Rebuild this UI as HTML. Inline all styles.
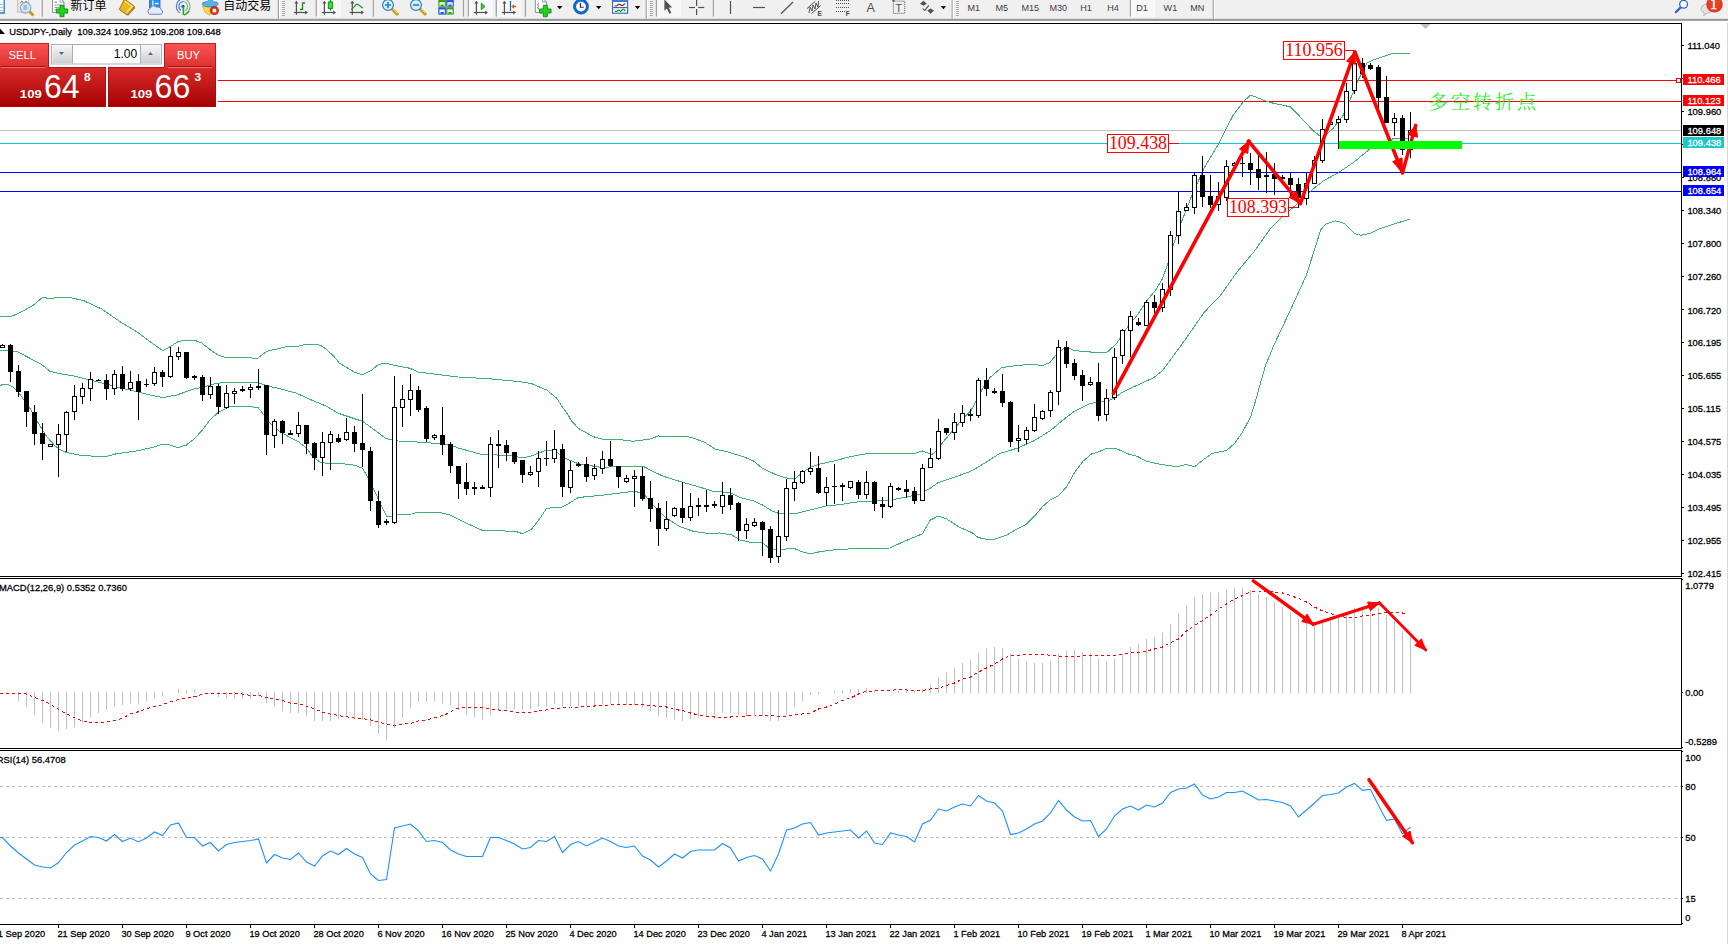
<!DOCTYPE html>
<html lang="zh"><head><meta charset="utf-8"><title>USDJPY-,Daily</title>
<style>
html,body{margin:0;padding:0;background:#fff}
body{width:1728px;height:944px;position:relative;overflow:hidden;font-family:"Liberation Sans","Noto Sans CJK SC",sans-serif;color:#000}
svg{position:absolute;left:0;top:0;display:block}
.t{font-family:"Liberation Sans","Noto Sans CJK SC",sans-serif;font-size:9.9px;fill:#000;stroke:#000;stroke-width:0.28px}
.pl{font-family:"Liberation Sans",sans-serif;font-size:9.9px;fill:#fff;stroke:#fff;stroke-width:0.28px}
.bx{font-family:"Liberation Serif",serif;font-size:17.9px;fill:#f00}
.tf{font-family:"Liberation Sans",sans-serif;font-size:9.9px;fill:#404040}
.cn{font-family:"Liberation Sans","Noto Sans CJK SC",sans-serif;font-size:12px;fill:#000}
</style></head><body>
<svg width="1728" height="944" viewBox="0 0 1728 944">
<rect x="0" y="0" width="1728" height="944" fill="#fff"/>
<g shape-rendering="crispEdges">
<rect x="0" y="80" width="1681" height="1" fill="#f00"/><rect x="0" y="101" width="1681" height="1" fill="#f00"/><rect x="0" y="130" width="1681" height="1" fill="#c0c0c0"/><rect x="0" y="143" width="1681" height="1" fill="#00ced1"/><rect x="0" y="172" width="1681" height="1" fill="#00f"/><rect x="0" y="191" width="1681" height="1" fill="#00f"/><rect x="1676.5" y="78.5" width="4" height="4" fill="#fff" stroke="#f00" stroke-width="1"/>
<path d="M18 692h1v9h-1zM26 692h1v15h-1zM34 692h1v23h-1zM42 692h1v31h-1zM50 692h1v36h-1zM58 692h1v39h-1zM66 692h1v37h-1zM74 692h1v35h-1zM82 692h1v30h-1zM90 692h1v25h-1zM98 692h1v21h-1zM106 692h1v18h-1zM114 692h1v14h-1zM122 692h1v13h-1zM130 692h1v11h-1zM138 692h1v11h-1zM146 692h1v9h-1zM154 692h1v6h-1zM162 692h1v4h-1zM178 689h1v4h-1zM186 690h1v3h-1zM194 690h1v3h-1zM218 692h1v5h-1zM226 692h1v6h-1zM234 692h1v6h-1zM242 692h1v6h-1zM250 692h1v6h-1zM258 692h1v4h-1zM266 692h1v11h-1zM274 692h1v14h-1zM282 692h1v19h-1zM290 692h1v21h-1zM298 692h1v21h-1zM306 692h1v24h-1zM314 692h1v29h-1zM322 692h1v29h-1zM330 692h1v29h-1zM338 692h1v27h-1zM346 692h1v25h-1zM354 692h1v27h-1zM362 692h1v28h-1zM370 692h1v34h-1zM378 692h1v42h-1zM386 692h1v48h-1zM394 692h1v36h-1zM402 692h1v26h-1zM410 692h1v16h-1zM418 692h1v10h-1zM426 692h1v10h-1zM434 692h1v9h-1zM442 692h1v11h-1zM450 692h1v13h-1zM458 692h1v18h-1zM466 692h1v23h-1zM474 692h1v25h-1zM482 692h1v27h-1zM490 692h1v23h-1zM498 692h1v19h-1zM506 692h1v17h-1zM514 692h1v17h-1zM522 692h1v18h-1zM530 692h1v17h-1zM538 692h1v15h-1zM546 692h1v14h-1zM554 692h1v12h-1zM562 692h1v14h-1zM570 692h1v14h-1zM578 692h1v14h-1zM586 692h1v14h-1zM594 692h1v13h-1zM602 692h1v12h-1zM610 692h1v11h-1zM618 692h1v12h-1zM626 692h1v13h-1zM634 692h1v13h-1zM642 692h1v15h-1zM650 692h1v19h-1zM658 692h1v24h-1zM666 692h1v26h-1zM674 692h1v27h-1zM682 692h1v29h-1zM690 692h1v27h-1zM698 692h1v26h-1zM706 692h1v25h-1zM714 692h1v23h-1zM722 692h1v21h-1zM730 692h1v21h-1zM738 692h1v23h-1zM746 692h1v24h-1zM754 692h1v24h-1zM762 692h1v24h-1zM770 692h1v29h-1zM778 692h1v29h-1zM786 692h1v23h-1zM794 692h1v15h-1zM802 692h1v9h-1zM810 692h1v3h-1zM818 692h1v2h-1zM834 691h1v2h-1zM842 690h1v3h-1zM850 689h1v4h-1zM858 689h1v4h-1zM866 688h1v5h-1zM874 690h1v3h-1zM898 691h1v2h-1zM906 690h1v3h-1zM914 691h1v2h-1zM922 689h1v4h-1zM930 685h1v8h-1zM938 678h1v15h-1zM946 673h1v20h-1zM954 668h1v25h-1zM962 663h1v30h-1zM970 660h1v33h-1zM978 653h1v40h-1zM986 649h1v44h-1zM994 647h1v46h-1zM1002 648h1v45h-1zM1010 654h1v39h-1zM1018 659h1v34h-1zM1026 662h1v31h-1zM1034 663h1v30h-1zM1042 663h1v30h-1zM1050 661h1v32h-1zM1058 654h1v39h-1zM1066 651h1v42h-1zM1074 650h1v43h-1zM1082 652h1v41h-1zM1090 653h1v40h-1zM1098 659h1v34h-1zM1106 662h1v31h-1zM1114 659h1v34h-1zM1122 654h1v39h-1zM1130 647h1v46h-1zM1138 644h1v49h-1zM1146 639h1v54h-1zM1154 637h1v56h-1zM1162 633h1v60h-1zM1170 624h1v69h-1zM1178 614h1v79h-1zM1186 606h1v87h-1zM1194 597h1v96h-1zM1202 594h1v99h-1zM1210 593h1v100h-1zM1218 593h1v100h-1zM1226 590h1v103h-1zM1234 588h1v105h-1zM1242 588h1v105h-1zM1250 590h1v103h-1zM1258 594h1v99h-1zM1266 597h1v96h-1zM1274 602h1v91h-1zM1282 607h1v86h-1zM1290 612h1v81h-1zM1298 619h1v74h-1zM1306 622h1v71h-1zM1314 626h1v67h-1zM1322 623h1v70h-1zM1330 620h1v73h-1zM1338 618h1v75h-1zM1346 615h1v78h-1zM1354 608h1v85h-1zM1362 606h1v87h-1zM1370 606h1v87h-1zM1378 608h1v85h-1zM1386 615h1v78h-1zM1394 621h1v72h-1zM1402 631h1v62h-1zM1410 637h1v56h-1z" fill="#c0c0c0"/>
</g>
<line x1="0" y1="786.5" x2="1681" y2="786.5" stroke="#c0c0c0" stroke-width="1" stroke-dasharray="3 3" shape-rendering="crispEdges"/><line x1="0" y1="837.5" x2="1681" y2="837.5" stroke="#c0c0c0" stroke-width="1" stroke-dasharray="3 3" shape-rendering="crispEdges"/><line x1="0" y1="898.5" x2="1681" y2="898.5" stroke="#c0c0c0" stroke-width="1" stroke-dasharray="3 3" shape-rendering="crispEdges"/>
<polyline points="0.0,316.3 11.7,316.3 21.7,311.7 34.0,304.7 43.0,297.0 50.0,299.0 57.5,297.0 67.5,297.0 83.3,300.5 101.7,309.0 122.5,323.3 138.0,332.5 150.0,341.7 163.0,350.8 170.0,346.7 178.0,341.7 185.0,340.0 194.0,340.0 201.7,343.0 211.7,350.8 218.0,355.0 225.8,357.5 241.7,357.5 257.5,358.3 266.7,351.3 280.0,348.3 288.3,346.3 299.2,346.0 304.6,344.6 316.3,344.6 320.8,345.4 326.7,349.6 334.2,356.7 339.2,363.0 346.7,367.5 355.0,372.5 362.5,374.6 370.8,370.8 378.3,364.7 384.0,363.0 393.3,365.0 410.0,368.3 418.3,372.0 458.3,377.0 488.3,378.7 520.0,381.7 531.7,383.7 546.7,390.0 556.7,398.3 563.3,408.3 568.0,414.7 570.8,420.0 578.3,428.3 593.3,436.7 601.7,439.0 623.3,440.0 633.3,441.3 650.0,439.0 658.3,436.0 673.3,436.7 685.0,436.0 693.3,438.0 705.0,442.5 715.0,449.0 726.7,451.7 743.3,456.7 753.3,460.8 762.5,468.3 776.7,475.0 786.7,478.0 795.0,478.7 801.7,473.0 810.0,467.5 820.0,464.0 835.0,460.8 850.0,456.7 865.0,454.0 886.7,453.3 915.0,453.3 922.5,451.0 931.7,454.5 935.8,451.7 943.3,441.7 953.3,430.0 962.5,419.0 970.8,410.8 976.7,400.0 981.7,390.0 990.0,377.5 1001.7,367.5 1015.0,365.8 1033.3,364.0 1041.7,365.8 1050.0,362.5 1056.7,354.0 1063.3,349.0 1069.0,348.0 1073.3,350.3 1081.7,351.3 1096.7,352.5 1106.7,352.5 1110.7,349.0 1117.3,342.5 1124.0,331.7 1130.7,323.3 1139.0,312.5 1147.3,300.0 1155.7,290.0 1162.3,279.0 1168.0,263.3 1170.7,253.3 1179.0,228.3 1190.7,198.3 1204.0,168.3 1219.0,143.3 1230.7,120.0 1233.3,115.0 1243.3,101.7 1250.8,95.0 1263.3,100.0 1273.3,103.3 1290.0,106.7 1300.0,116.7 1313.3,130.8 1319.0,135.3 1326.7,134.0 1333.3,128.3 1343.3,115.0 1350.0,100.0 1358.3,80.0 1366.7,63.3 1373.3,60.0 1383.3,56.7 1393.3,53.3 1410.0,53.3" fill="none" stroke="#3cb371" stroke-width="1" shape-rendering="crispEdges"/>
<polyline points="0.0,350.8 8.0,350.8 18.0,352.0 30.0,358.3 41.0,364.0 50.0,371.3 58.0,373.3 73.0,375.8 88.0,379.5 103.0,383.3 122.5,388.3 138.0,392.0 150.0,395.0 163.0,397.5 176.7,395.0 194.0,389.0 201.7,387.5 215.0,383.7 223.0,382.5 257.5,382.5 266.7,385.8 280.0,388.7 296.7,393.3 313.3,400.8 326.7,406.3 338.3,413.3 353.3,418.3 362.5,421.3 373.3,429.0 385.0,438.0 391.7,440.0 398.3,441.0 426.7,442.5 440.0,444.0 450.0,444.7 458.3,448.0 480.0,454.0 490.0,454.7 513.3,455.8 522.5,458.0 531.7,455.8 546.7,450.0 556.7,451.7 560.0,454.7 566.7,459.0 578.3,463.7 601.7,467.5 618.3,466.3 643.3,466.3 650.0,470.0 663.3,476.3 683.3,482.5 698.3,486.7 713.3,491.3 730.0,492.5 740.0,497.5 753.3,500.8 762.5,505.0 771.7,510.8 778.3,513.3 796.7,513.3 810.0,510.0 826.7,505.8 840.0,504.7 856.7,502.0 873.3,501.0 886.7,500.8 906.7,497.0 920.0,494.0 930.0,488.3 938.3,482.5 953.3,477.5 970.0,471.7 983.3,464.0 1000.0,453.3 1010.0,450.5 1018.3,447.8 1034.0,440.8 1050.0,430.8 1061.7,421.0 1075.0,411.0 1090.0,403.5 1100.0,402.0 1108.3,401.0 1115.0,397.5 1120.7,393.3 1134.0,386.7 1154.0,377.5 1162.3,370.8 1174.0,355.0 1187.3,336.7 1204.0,312.5 1220.7,295.0 1237.3,271.7 1254.0,251.7 1270.7,228.3 1282.3,216.7 1298.0,203.3 1314.0,188.3 1323.9,180.5 1337.7,173.1 1353.5,162.5 1369.4,149.3 1380.0,144.5 1390.0,140.0 1395.0,138.0 1410.0,138.0" fill="none" stroke="#3cb371" stroke-width="1" shape-rendering="crispEdges"/>
<polyline points="0.0,385.3 6.7,384.0 12.5,386.7 19.0,393.3 29.0,406.7 38.0,422.5 46.7,436.7 55.0,445.8 60.0,449.7 66.7,452.5 80.0,455.3 95.0,456.3 106.7,456.3 116.7,453.7 138.0,450.8 155.0,446.7 163.0,444.0 170.0,445.0 178.0,447.5 186.0,445.3 194.0,439.0 201.7,430.8 210.0,420.0 218.0,412.5 230.0,406.7 245.0,406.3 258.0,407.5 264.0,415.0 270.0,423.3 280.0,431.7 290.0,437.5 298.3,441.7 306.7,448.3 312.5,456.7 320.0,462.0 330.0,464.0 340.0,463.3 355.0,465.3 362.5,468.3 368.3,478.3 375.0,491.7 381.7,506.7 386.7,516.3 390.8,516.3 396.7,514.7 411.7,514.0 418.3,512.0 438.3,512.0 450.0,515.0 468.3,524.0 482.5,530.5 501.7,530.8 516.7,531.7 522.5,533.7 531.7,529.0 540.0,518.3 546.7,508.3 561.7,507.0 568.0,504.0 578.3,497.5 601.7,495.3 618.3,493.3 633.3,491.3 643.3,493.0 650.0,501.7 656.7,509.0 666.7,518.3 680.0,526.7 693.3,531.3 706.7,533.3 720.0,533.0 731.7,535.0 740.0,540.0 751.7,542.5 762.5,542.8 768.3,547.5 773.3,549.7 781.7,549.7 793.3,548.0 801.7,551.7 810.0,553.8 820.0,551.7 835.0,549.7 848.0,549.0 856.7,548.7 890.0,548.0 903.3,541.7 922.5,533.8 930.0,520.3 938.3,516.0 946.7,519.0 960.0,527.5 971.7,532.5 978.3,537.5 986.7,539.5 995.0,539.0 1006.7,535.0 1018.3,528.3 1026.7,524.0 1034.0,516.7 1042.5,506.7 1050.0,500.0 1058.3,496.0 1066.7,486.7 1075.0,471.7 1082.5,461.7 1091.7,453.8 1098.3,452.0 1106.7,448.3 1115.7,448.3 1129.0,454.2 1137.3,456.3 1146.5,461.3 1162.3,464.7 1177.3,466.7 1185.7,464.5 1194.8,466.7 1204.0,459.2 1212.3,453.3 1226.5,450.5 1234.8,443.3 1242.3,432.5 1250.7,416.7 1257.3,395.0 1259.0,388.3 1265.7,365.0 1274.0,345.0 1287.3,316.7 1297.3,295.0 1305.7,276.7 1312.3,256.7 1320.7,230.0 1325.7,224.0 1335.7,220.8 1344.0,223.3 1354.0,233.3 1360.7,235.3 1370.7,233.3 1380.7,228.3 1392.0,224.7 1410.0,219.0" fill="none" stroke="#3cb371" stroke-width="1" shape-rendering="crispEdges"/>
<polyline points="0.0,693.5 17.5,693.0 26.2,694.0 34.2,697.5 42.5,700.5 50.0,704.0 58.2,709.0 66.2,713.8 74.2,717.5 82.2,721.0 90.2,722.5 98.2,722.5 106.2,722.0 114.2,720.5 122.2,718.5 130.2,714.0 138.2,711.8 146.2,708.8 154.2,706.8 162.2,704.8 170.2,701.8 178.2,699.8 186.2,698.0 194.2,696.8 202.2,694.3 210.2,693.5 226.2,693.5 242.2,694.0 250.2,695.5 258.2,695.0 266.2,697.5 274.2,699.0 282.2,700.5 290.2,703.0 298.2,703.8 306.2,706.0 314.2,708.8 322.2,712.0 330.2,714.0 338.2,715.5 346.2,716.8 354.2,718.0 362.2,718.5 370.2,719.8 378.2,722.0 386.2,724.0 394.2,726.0 402.2,724.0 410.2,723.5 418.2,721.0 426.2,720.0 432.0,718.5 444.5,715.0 457.0,708.5 466.5,707.0 474.5,707.0 482.5,708.0 490.5,709.0 498.5,710.0 506.5,711.0 514.5,712.0 522.5,712.0 530.5,712.0 538.5,711.0 546.5,710.0 554.5,708.0 562.5,708.0 570.5,707.0 578.5,707.0 586.5,706.0 594.5,706.0 602.5,705.0 610.5,705.0 618.5,704.5 626.5,704.5 634.5,704.5 642.5,704.5 650.5,705.5 658.5,706.5 666.5,707.0 674.5,709.5 682.5,710.5 690.5,713.0 698.5,715.0 706.5,716.5 714.5,717.0 722.5,717.0 730.5,717.0 738.5,716.0 746.5,716.0 754.5,715.0 762.5,715.0 770.5,715.0 778.5,716.5 786.5,716.0 794.5,715.0 802.5,714.0 810.5,713.0 818.5,709.0 826.5,707.0 834.5,704.0 842.5,700.5 850.5,698.0 858.5,694.0 864.0,692.0 874.5,691.0 890.5,690.5 898.5,689.5 914.5,690.5 922.5,690.5 930.5,689.0 938.5,688.0 946.5,685.5 954.5,683.0 962.5,679.0 970.5,677.0 978.5,672.0 986.5,668.0 994.5,664.0 1002.5,659.0 1010.5,655.5 1018.5,655.5 1026.5,654.0 1034.5,654.0 1042.5,654.0 1050.5,655.5 1058.5,656.0 1074.5,656.0 1082.5,656.0 1090.5,655.5 1106.5,655.5 1114.5,655.5 1122.5,654.0 1130.5,653.0 1138.5,652.5 1146.5,651.0 1154.5,649.0 1162.5,647.0 1170.5,642.5 1178.5,639.0 1186.5,631.0 1194.5,625.5 1202.5,620.5 1210.5,615.0 1218.5,609.0 1226.5,604.0 1232.0,600.5 1242.5,595.5 1250.5,592.0 1258.5,591.0 1266.5,591.0 1274.5,592.0 1282.5,593.0 1290.5,595.5 1298.5,598.5 1306.5,602.0 1314.5,607.0 1322.5,611.0 1330.5,613.5 1338.5,616.0 1346.5,617.5 1354.5,617.5 1362.5,616.0 1370.5,615.5 1378.5,613.5 1386.5,612.5 1394.5,612.0 1402.5,613.0 1407.0,614.5" fill="none" stroke="#f00" stroke-width="1" stroke-dasharray="3 3" shape-rendering="crispEdges"/>
<polyline points="-5.5,837.5 2.5,837.5 10.5,846.0 18.5,853.0 26.5,859.0 34.5,865.0 42.5,867.0 50.5,868.0 58.5,862.5 66.5,852.5 74.5,845.0 82.5,841.0 90.5,836.5 98.5,837.5 106.5,841.0 114.5,834.5 122.5,841.5 130.5,838.0 138.5,842.0 146.5,838.0 154.5,832.0 162.5,835.5 170.5,825.0 178.5,823.0 186.5,837.5 194.5,837.5 202.5,846.0 210.5,842.5 218.5,851.0 226.5,844.5 234.5,842.5 242.5,841.5 250.5,840.5 258.5,839.0 266.5,863.0 274.5,854.5 282.5,858.0 290.5,859.5 298.5,853.0 306.5,862.0 314.5,866.0 322.5,856.0 330.5,851.0 338.5,854.5 346.5,848.5 354.5,854.0 362.5,857.5 370.5,874.0 378.5,880.5 386.5,879.5 394.5,828.0 402.5,826.0 410.5,824.0 418.5,831.0 426.5,841.5 434.5,840.5 442.5,842.5 450.5,850.0 458.5,854.0 466.5,856.5 474.5,856.5 482.5,856.5 490.5,837.5 498.5,837.5 506.5,840.5 514.5,844.0 522.5,849.0 530.5,847.5 538.5,840.5 546.5,841.5 554.5,836.5 562.5,852.5 570.5,844.5 578.5,841.5 586.5,846.0 594.5,842.0 602.5,838.0 610.5,841.5 618.5,846.0 626.5,847.5 634.5,846.0 642.5,856.0 650.5,860.0 658.5,867.0 666.5,861.0 674.5,854.0 682.5,858.0 690.5,851.5 698.5,850.0 706.5,850.0 714.5,850.0 722.5,843.5 730.5,848.0 738.5,861.0 746.5,857.5 754.5,855.5 762.5,859.0 770.5,871.0 778.5,854.0 786.5,830.0 794.5,828.0 802.5,824.0 810.5,822.5 818.5,835.0 826.5,833.0 834.5,832.0 842.5,831.0 850.5,830.0 858.5,838.0 866.5,831.0 874.5,843.0 882.5,844.5 890.5,833.0 898.5,835.0 906.5,836.5 914.5,842.0 922.5,824.0 930.5,820.0 938.5,809.0 946.5,811.0 954.5,807.0 962.5,804.0 970.5,806.0 978.5,795.5 986.5,801.0 994.5,803.0 1002.5,811.0 1010.5,834.5 1018.5,833.0 1026.5,829.0 1034.5,824.0 1042.5,821.0 1050.5,813.0 1058.5,800.5 1066.5,810.0 1074.5,817.0 1082.5,821.0 1090.5,820.5 1098.5,836.5 1106.5,829.0 1114.5,816.0 1122.5,809.0 1130.5,806.0 1138.5,810.0 1146.5,805.0 1154.5,807.0 1162.5,803.0 1170.5,792.5 1178.5,789.0 1186.5,788.0 1194.5,784.0 1202.5,795.0 1210.5,799.0 1218.5,797.0 1226.5,792.5 1234.5,792.5 1242.5,791.0 1250.5,795.5 1258.5,800.0 1266.5,799.5 1274.5,801.0 1282.5,802.5 1290.5,806.0 1298.5,817.0 1306.5,810.0 1314.5,803.0 1322.5,795.5 1330.5,794.5 1338.5,793.0 1346.5,787.0 1354.5,783.4 1362.5,790.4 1370.5,789.3 1378.5,805.6 1386.5,820.4 1394.5,819.0 1402.5,833.8 1410.5,827.0" fill="none" stroke="#1e90ff" stroke-width="1.1"/>
<g shape-rendering="crispEdges">
<path d="M2 344h1v4h-1zM0 345h5v3h-5zM10 344h1v38h-1zM8 345h5v27h-5zM18 365h1v32h-1zM16 371h5v21h-5zM26 391h1v36h-1zM24 391h5v21h-5zM34 405h1v40h-1zM32 412h5v22h-5zM42 423h1v37h-1zM40 433h5v11h-5zM50 444h1v3h-1zM48 444h5v3h-5zM58 424h1v53h-1zM56 434h5v11h-5zM66 411h1v41h-1zM64 412h5v23h-5zM74 385h1v35h-1zM72 396h5v16h-5zM82 383h1v21h-1zM80 388h5v9h-5zM90 372h1v29h-1zM88 379h5v10h-5zM98 379h1v2h-1zM96 380h5v1h-5zM106 374h1v26h-1zM104 380h5v9h-5zM114 370h1v25h-1zM112 374h5v15h-5zM122 366h1v25h-1zM120 374h5v15h-5zM130 371h1v20h-1zM128 382h5v7h-5zM138 374h1v46h-1zM136 381h5v11h-5zM146 379h1v8h-1zM144 384h5v1h-5zM154 367h1v19h-1zM152 372h5v12h-5zM162 370h1v17h-1zM160 372h5v5h-5zM170 347h1v31h-1zM168 356h5v21h-5zM178 347h1v13h-1zM176 352h5v5h-5zM186 352h1v27h-1zM184 352h5v26h-5zM194 375h1v5h-1zM192 376h5v2h-5zM202 375h1v26h-1zM200 377h5v18h-5zM210 377h1v22h-1zM208 386h5v9h-5zM218 384h1v30h-1zM216 386h5v21h-5zM226 385h1v24h-1zM224 393h5v15h-5zM234 388h1v16h-1zM232 391h5v3h-5zM242 386h1v6h-1zM240 389h5v2h-5zM250 384h1v14h-1zM248 387h5v3h-5zM258 369h1v21h-1zM256 386h5v2h-5zM266 385h1v70h-1zM264 385h5v50h-5zM274 419h1v29h-1zM272 421h5v15h-5zM282 420h1v24h-1zM280 421h5v12h-5zM290 430h1v5h-1zM288 433h5v2h-5zM298 412h1v25h-1zM296 425h5v9h-5zM306 425h1v29h-1zM304 425h5v19h-5zM314 442h1v28h-1zM312 443h5v15h-5zM322 432h1v44h-1zM320 442h5v16h-5zM330 431h1v39h-1zM328 434h5v9h-5zM338 434h1v9h-1zM336 438h5v4h-5zM346 418h1v23h-1zM344 432h5v8h-5zM354 426h1v26h-1zM352 432h5v12h-5zM362 394h1v73h-1zM360 443h5v7h-5zM370 447h1v64h-1zM368 451h5v50h-5zM378 491h1v37h-1zM376 501h5v24h-5zM386 519h1v6h-1zM384 521h5v2h-5zM394 376h1v148h-1zM392 407h5v116h-5zM402 385h1v42h-1zM400 399h5v9h-5zM410 374h1v42h-1zM408 390h5v10h-5zM418 386h1v26h-1zM416 390h5v20h-5zM426 406h1v36h-1zM424 408h5v31h-5zM434 434h1v6h-1zM432 435h5v3h-5zM442 407h1v48h-1zM440 435h5v10h-5zM450 442h1v31h-1zM448 444h5v22h-5zM458 466h1v33h-1zM456 466h5v18h-5zM466 463h1v32h-1zM464 482h5v7h-5zM474 482h1v13h-1zM472 487h5v2h-5zM482 485h1v4h-1zM480 487h5v2h-5zM490 437h1v60h-1zM488 444h5v44h-5zM498 430h1v38h-1zM496 444h5v2h-5zM506 440h1v21h-1zM504 445h5v8h-5zM514 452h1v12h-1zM512 452h5v10h-5zM522 460h1v23h-1zM520 460h5v15h-5zM530 466h1v10h-1zM528 472h5v3h-5zM538 451h1v36h-1zM536 458h5v14h-5zM546 441h1v25h-1zM544 458h5v1h-5zM554 430h1v33h-1zM552 449h5v10h-5zM562 444h1v53h-1zM560 449h5v38h-5zM570 461h1v32h-1zM568 470h5v18h-5zM578 462h1v5h-1zM576 464h5v2h-5zM586 457h1v25h-1zM584 464h5v13h-5zM594 464h1v16h-1zM592 468h5v8h-5zM602 451h1v23h-1zM600 459h5v10h-5zM610 441h1v26h-1zM608 459h5v7h-5zM618 466h1v22h-1zM616 466h5v11h-5zM626 475h1v8h-1zM624 478h5v4h-5zM634 470h1v37h-1zM632 476h5v3h-5zM642 467h1v34h-1zM640 476h5v23h-5zM650 481h1v41h-1zM648 498h5v11h-5zM658 503h1v43h-1zM656 508h5v21h-5zM666 501h1v30h-1zM664 519h5v10h-5zM674 507h1v10h-1zM672 508h5v8h-5zM682 482h1v41h-1zM680 508h5v10h-5zM690 493h1v28h-1zM688 506h5v12h-5zM698 498h1v18h-1zM696 505h5v2h-5zM706 490h1v22h-1zM704 505h5v2h-5zM714 501h1v7h-1zM712 504h5v2h-5zM722 482h1v32h-1zM720 495h5v12h-5zM730 488h1v22h-1zM728 495h5v10h-5zM738 502h1v39h-1zM736 503h5v28h-5zM746 518h1v21h-1zM744 524h5v7h-5zM754 518h1v9h-1zM752 522h5v4h-5zM762 521h1v35h-1zM760 522h5v8h-5zM770 526h1v37h-1zM768 529h5v29h-5zM778 510h1v53h-1zM776 536h5v21h-5zM786 479h1v62h-1zM784 488h5v49h-5zM794 471h1v30h-1zM792 482h5v7h-5zM802 470h1v14h-1zM800 471h5v12h-5zM810 452h1v23h-1zM808 468h5v4h-5zM818 456h1v38h-1zM816 468h5v25h-5zM826 477h1v29h-1zM824 487h5v6h-5zM834 464h1v40h-1zM832 486h5v1h-5zM842 483h1v18h-1zM840 485h5v2h-5zM850 481h1v8h-1zM848 481h5v7h-5zM858 480h1v19h-1zM856 482h5v13h-5zM866 471h1v28h-1zM864 482h5v13h-5zM874 481h1v30h-1zM872 482h5v22h-5zM882 497h1v21h-1zM880 504h5v3h-5zM890 483h1v25h-1zM888 486h5v21h-5zM898 487h1v4h-1zM896 488h5v2h-5zM906 480h1v18h-1zM904 489h5v3h-5zM914 487h1v17h-1zM912 491h5v10h-5zM922 464h1v37h-1zM920 468h5v33h-5zM930 448h1v20h-1zM928 458h5v10h-5zM938 419h1v41h-1zM936 431h5v28h-5zM946 428h1v7h-1zM944 428h5v5h-5zM954 413h1v27h-1zM952 422h5v11h-5zM962 405h1v22h-1zM960 413h5v10h-5zM970 409h1v12h-1zM968 414h5v2h-5zM978 378h1v40h-1zM976 380h5v36h-5zM986 368h1v28h-1zM984 380h5v9h-5zM994 388h1v6h-1zM992 391h5v2h-5zM1002 374h1v33h-1zM1000 391h5v12h-5zM1010 401h1v46h-1zM1008 402h5v40h-5zM1018 425h1v27h-1zM1016 438h5v3h-5zM1026 427h1v17h-1zM1024 430h5v10h-5zM1034 404h1v28h-1zM1032 417h5v14h-5zM1042 410h1v10h-1zM1040 411h5v8h-5zM1050 390h1v27h-1zM1048 392h5v19h-5zM1058 340h1v65h-1zM1056 347h5v45h-5zM1066 341h1v27h-1zM1064 347h5v17h-5zM1074 359h1v21h-1zM1072 363h5v13h-5zM1082 370h1v31h-1zM1080 375h5v11h-5zM1090 377h1v9h-1zM1088 382h5v3h-5zM1098 363h1v58h-1zM1096 382h5v34h-5zM1106 389h1v32h-1zM1104 398h5v17h-5zM1114 348h1v52h-1zM1112 357h5v41h-5zM1122 329h1v35h-1zM1120 330h5v26h-5zM1130 311h1v46h-1zM1128 316h5v15h-5zM1138 318h1v8h-1zM1136 322h5v3h-5zM1146 300h1v26h-1zM1144 302h5v24h-5zM1154 295h1v18h-1zM1152 302h5v6h-5zM1162 283h1v29h-1zM1160 289h5v19h-5zM1170 231h1v65h-1zM1168 235h5v55h-5zM1178 192h1v52h-1zM1176 211h5v25h-5zM1186 203h1v8h-1zM1184 207h5v4h-5zM1194 173h1v41h-1zM1192 175h5v33h-5zM1202 156h1v51h-1zM1200 175h5v22h-5zM1210 175h1v33h-1zM1208 196h5v9h-5zM1218 182h1v29h-1zM1216 196h5v9h-5zM1226 160h1v41h-1zM1224 166h5v32h-5zM1234 162h1v4h-1zM1232 163h5v3h-5zM1242 157h1v20h-1zM1240 163h5v1h-5zM1250 153h1v32h-1zM1248 163h5v7h-5zM1258 151h1v39h-1zM1256 169h5v9h-5zM1266 152h1v41h-1zM1264 175h5v2h-5zM1274 163h1v32h-1zM1272 174h5v5h-5zM1282 175h1v5h-1zM1280 177h5v2h-5zM1290 173h1v24h-1zM1288 178h5v7h-5zM1298 178h1v30h-1zM1296 184h5v14h-5zM1306 173h1v32h-1zM1304 183h5v16h-5zM1314 156h1v28h-1zM1312 160h5v24h-5zM1322 119h1v44h-1zM1320 129h5v32h-5zM1330 122h1v3h-1zM1328 122h5v3h-5zM1338 116h1v33h-1zM1336 119h5v4h-5zM1346 83h1v40h-1zM1344 91h5v29h-5zM1354 50h1v44h-1zM1352 63h5v28h-5zM1362 58h1v20h-1zM1360 63h5v11h-5zM1370 63h1v7h-1zM1368 65h5v4h-5zM1378 65h1v48h-1zM1376 67h5v31h-5zM1386 76h1v47h-1zM1384 97h5v26h-5zM1394 113h1v23h-1zM1392 118h5v5h-5zM1402 115h1v40h-1zM1400 118h5v32h-5zM1410 112h1v46h-1zM1408 130h5v20h-5z" fill="#000"/>
<path d="M1 346h3v1h-3zM49 445h3v1h-3zM57 435h3v9h-3zM65 413h3v21h-3zM73 397h3v14h-3zM81 389h3v7h-3zM89 380h3v8h-3zM113 375h3v13h-3zM129 383h3v5h-3zM153 373h3v10h-3zM169 357h3v19h-3zM177 353h3v3h-3zM209 387h3v7h-3zM225 394h3v13h-3zM233 392h3v1h-3zM249 388h3v1h-3zM273 422h3v13h-3zM297 426h3v7h-3zM321 443h3v14h-3zM329 435h3v7h-3zM345 433h3v6h-3zM393 408h3v114h-3zM401 400h3v7h-3zM409 391h3v8h-3zM433 436h3v1h-3zM489 445h3v42h-3zM529 473h3v1h-3zM537 459h3v12h-3zM553 450h3v8h-3zM569 471h3v16h-3zM593 469h3v6h-3zM601 460h3v8h-3zM625 479h3v2h-3zM633 477h3v1h-3zM665 520h3v8h-3zM673 509h3v6h-3zM689 507h3v10h-3zM721 496h3v10h-3zM745 525h3v5h-3zM753 523h3v2h-3zM777 537h3v19h-3zM785 489h3v47h-3zM793 483h3v5h-3zM801 472h3v10h-3zM809 469h3v2h-3zM825 488h3v4h-3zM849 482h3v5h-3zM865 483h3v11h-3zM889 487h3v19h-3zM921 469h3v31h-3zM929 459h3v8h-3zM937 432h3v26h-3zM953 423h3v9h-3zM961 414h3v8h-3zM977 381h3v34h-3zM1017 439h3v1h-3zM1025 431h3v8h-3zM1033 418h3v12h-3zM1041 412h3v6h-3zM1049 393h3v17h-3zM1057 348h3v43h-3zM1089 383h3v1h-3zM1105 399h3v15h-3zM1113 358h3v39h-3zM1121 331h3v24h-3zM1129 317h3v13h-3zM1145 303h3v22h-3zM1161 290h3v17h-3zM1169 236h3v53h-3zM1177 212h3v23h-3zM1185 208h3v2h-3zM1193 176h3v31h-3zM1217 197h3v7h-3zM1225 167h3v30h-3zM1233 164h3v1h-3zM1305 184h3v14h-3zM1313 161h3v22h-3zM1321 130h3v30h-3zM1329 123h3v1h-3zM1337 120h3v2h-3zM1345 92h3v27h-3zM1353 64h3v26h-3zM1393 119h3v3h-3zM1409 131h3v18h-3z" fill="#fff"/>
</g>
<g shape-rendering="crispEdges" fill="#000">
<rect x="0" y="23" width="1682" height="1"/><rect x="0" y="576" width="1682" height="1"/><rect x="0" y="578" width="1682" height="1"/><rect x="0" y="748" width="1682" height="1"/><rect x="0" y="750" width="1682" height="1"/><rect x="0" y="924" width="1682" height="1"/><rect x="1681" y="23" width="1" height="554"/><rect x="1681" y="578" width="1" height="171"/><rect x="1681" y="750" width="1" height="175"/><rect x="1682" y="45" width="2" height="1"/><rect x="1682" y="78" width="2" height="1"/><rect x="1682" y="111" width="2" height="1"/><rect x="1682" y="144" width="2" height="1"/><rect x="1682" y="177" width="2" height="1"/><rect x="1682" y="210" width="2" height="1"/><rect x="1682" y="243" width="2" height="1"/><rect x="1682" y="276" width="2" height="1"/><rect x="1682" y="309" width="2" height="1"/><rect x="1682" y="342" width="2" height="1"/><rect x="1682" y="375" width="2" height="1"/><rect x="1682" y="408" width="2" height="1"/><rect x="1682" y="441" width="2" height="1"/><rect x="1682" y="474" width="2" height="1"/><rect x="1682" y="507" width="2" height="1"/><rect x="1682" y="540" width="2" height="1"/><rect x="1682" y="573" width="2" height="1"/><rect x="1682" y="579" width="1" height="1"/><rect x="1682" y="692" width="1" height="1"/><rect x="1682" y="747" width="1" height="1"/><rect x="1682" y="751" width="1" height="1"/><rect x="1682" y="786" width="1" height="1"/><rect x="1682" y="837" width="1" height="1"/><rect x="1682" y="898" width="1" height="1"/><rect x="1682" y="923" width="1" height="1"/><rect x="58" y="925" width="1" height="3"/><rect x="122" y="925" width="1" height="3"/><rect x="186" y="925" width="1" height="3"/><rect x="250" y="925" width="1" height="3"/><rect x="314" y="925" width="1" height="3"/><rect x="378" y="925" width="1" height="3"/><rect x="442" y="925" width="1" height="3"/><rect x="506" y="925" width="1" height="3"/><rect x="570" y="925" width="1" height="3"/><rect x="634" y="925" width="1" height="3"/><rect x="698" y="925" width="1" height="3"/><rect x="762" y="925" width="1" height="3"/><rect x="826" y="925" width="1" height="3"/><rect x="890" y="925" width="1" height="3"/><rect x="954" y="925" width="1" height="3"/><rect x="1018" y="925" width="1" height="3"/><rect x="1082" y="925" width="1" height="3"/><rect x="1146" y="925" width="1" height="3"/><rect x="1210" y="925" width="1" height="3"/><rect x="1274" y="925" width="1" height="3"/><rect x="1338" y="925" width="1" height="3"/><rect x="1402" y="925" width="1" height="3"/></g>
<line x1="1113.4" y1="393.4" x2="1249" y2="141.2" stroke="#f00" stroke-width="3.6" stroke-linecap="round"/><polygon points="1249.0,141.2 1247.7,153.6 1239.4,149.1" fill="#f00" stroke="#f00" stroke-width="1" stroke-linejoin="round"/>
<line x1="1248.5" y1="141.2" x2="1300.4" y2="203.5" stroke="#f00" stroke-width="3.6" stroke-linecap="round"/><polygon points="1300.4,203.5 1289.1,197.3 1296.3,191.3" fill="#f00" stroke="#f00" stroke-width="1" stroke-linejoin="round"/>
<line x1="1300.4" y1="203.5" x2="1354.8" y2="52" stroke="#f00" stroke-width="3.6" stroke-linecap="round"/><polygon points="1354.8,52.0 1355.3,64.4 1346.5,61.2" fill="#f00" stroke="#f00" stroke-width="1" stroke-linejoin="round"/>
<line x1="1354.8" y1="52" x2="1402.5" y2="172.8" stroke="#f00" stroke-width="3.6" stroke-linecap="round"/><polygon points="1402.5,172.8 1392.7,161.6 1402.0,157.9" fill="#f00" stroke="#f00" stroke-width="1" stroke-linejoin="round"/>
<line x1="1402.5" y1="172.8" x2="1415.7" y2="125.3" stroke="#f00" stroke-width="3.4" stroke-linecap="round"/><polygon points="1415.7,125.3 1417.6,137.2 1407.9,134.6" fill="#f00" stroke="#f00" stroke-width="1" stroke-linejoin="round"/>
<line x1="1253.3" y1="580.8" x2="1313.3" y2="624.3" stroke="#f00" stroke-width="3.3" stroke-linecap="round"/><polygon points="1313.3,624.3 1301.7,621.6 1307.1,614.1" fill="#f00" stroke="#f00" stroke-width="1" stroke-linejoin="round"/>
<line x1="1313.3" y1="624.3" x2="1379.5" y2="603" stroke="#f00" stroke-width="3.3" stroke-linecap="round"/><polygon points="1379.5,603.0 1370.4,610.7 1367.6,602.0" fill="#f00" stroke="#f00" stroke-width="1" stroke-linejoin="round"/>
<line x1="1379.5" y1="603" x2="1425.8" y2="650" stroke="#f00" stroke-width="2.8" stroke-linecap="round"/><polygon points="1425.8,650.0 1414.8,645.4 1421.4,638.9" fill="#f00" stroke="#f00" stroke-width="1" stroke-linejoin="round"/>
<line x1="1369" y1="779.7" x2="1412.5" y2="842.7" stroke="#f00" stroke-width="3.5" stroke-linecap="round"/><polygon points="1412.5,842.7 1402.5,836.3 1410.0,831.0" fill="#f00" stroke="#f00" stroke-width="1" stroke-linejoin="round"/>
<rect x="1339" y="141" width="123" height="8" fill="#0f0" shape-rendering="crispEdges"/>
<rect x="1283.5" y="41.5" width="61" height="18" fill="#fff" stroke="#f00" stroke-width="1" shape-rendering="crispEdges"/><polyline points="1345,50.5 1355,50.5" fill="none" stroke="#f00" stroke-width="1" shape-rendering="crispEdges"/><text class="bx" x="1314.0" y="56.3" text-anchor="middle">110.956</text>
<rect x="1107.5" y="134.5" width="61" height="18" fill="#fff" stroke="#f00" stroke-width="1" shape-rendering="crispEdges"/><polyline points="1169,143.5 1179,143.5" fill="none" stroke="#f00" stroke-width="1" shape-rendering="crispEdges"/><text class="bx" x="1138.0" y="149.3" text-anchor="middle">109.438</text>
<rect x="1227.5" y="198.5" width="61" height="18" fill="#fff" stroke="#f00" stroke-width="1" shape-rendering="crispEdges"/><polyline points="1289,207.5 1298,207.5" fill="none" stroke="#f00" stroke-width="1" shape-rendering="crispEdges"/><text class="bx" x="1258.0" y="213.3" text-anchor="middle">108.393</text>
<text x="1428.4" y="108.6" style="font-family:'Liberation Serif','Noto Serif CJK SC',serif;font-size:19.4px;letter-spacing:2.7px;fill:#00f400;font-weight:300">多空转折点</text>
<text class="t" transform="translate(1687.4 49.1) scale(0.95 1)" xml:space="preserve">111.040</text><text class="t" transform="translate(1687.4 115.2) scale(0.95 1)" xml:space="preserve">109.960</text><text class="t" transform="translate(1687.4 181.3) scale(0.95 1)" xml:space="preserve">108.880</text><text class="t" transform="translate(1687.4 214.3) scale(0.95 1)" xml:space="preserve">108.340</text><text class="t" transform="translate(1687.4 247.4) scale(0.95 1)" xml:space="preserve">107.800</text><text class="t" transform="translate(1687.4 280.4) scale(0.95 1)" xml:space="preserve">107.260</text><text class="t" transform="translate(1687.4 313.5) scale(0.95 1)" xml:space="preserve">106.720</text><text class="t" transform="translate(1687.4 345.6) scale(0.95 1)" xml:space="preserve">106.195</text><text class="t" transform="translate(1687.4 378.7) scale(0.95 1)" xml:space="preserve">105.655</text><text class="t" transform="translate(1687.4 411.7) scale(0.95 1)" xml:space="preserve">105.115</text><text class="t" transform="translate(1687.4 444.8) scale(0.95 1)" xml:space="preserve">104.575</text><text class="t" transform="translate(1687.4 477.8) scale(0.95 1)" xml:space="preserve">104.035</text><text class="t" transform="translate(1687.4 510.9) scale(0.95 1)" xml:space="preserve">103.495</text><text class="t" transform="translate(1687.4 543.9) scale(0.95 1)" xml:space="preserve">102.955</text><text class="t" transform="translate(1687.4 577.0) scale(0.95 1)" xml:space="preserve">102.415</text>
<rect x="1683" y="74" width="41" height="11" fill="#f00" shape-rendering="crispEdges"/><text class="pl" transform="translate(1687.4 83) scale(0.95 1)" xml:space="preserve">110.466</text><rect x="1683" y="95" width="41" height="11" fill="#f00" shape-rendering="crispEdges"/><text class="pl" transform="translate(1687.4 104) scale(0.95 1)" xml:space="preserve">110.123</text><rect x="1683" y="125" width="41" height="11" fill="#000" shape-rendering="crispEdges"/><text class="pl" transform="translate(1687.4 134) scale(0.95 1)" xml:space="preserve">109.648</text><rect x="1683" y="137" width="41" height="11" fill="#1cc8c8" shape-rendering="crispEdges"/><text class="pl" transform="translate(1687.4 146) scale(0.95 1)" xml:space="preserve">109.438</text><rect x="1683" y="166" width="41" height="11" fill="#00f" shape-rendering="crispEdges"/><text class="pl" transform="translate(1687.4 175) scale(0.95 1)" xml:space="preserve">108.964</text><rect x="1683" y="185" width="41" height="11" fill="#00f" shape-rendering="crispEdges"/><text class="pl" transform="translate(1687.4 194) scale(0.95 1)" xml:space="preserve">108.654</text>
<text class="t" transform="translate(1685.2 589) scale(0.95 1)" xml:space="preserve">1.0779</text><text class="t" transform="translate(1685.2 696) scale(0.95 1)" xml:space="preserve">0.00</text><text class="t" transform="translate(1685.2 745) scale(0.95 1)" xml:space="preserve">-0.5289</text><text class="t" transform="translate(1685.2 761) scale(0.95 1)" xml:space="preserve">100</text><text class="t" transform="translate(1685.2 790) scale(0.95 1)" xml:space="preserve">80</text><text class="t" transform="translate(1685.2 841) scale(0.95 1)" xml:space="preserve">50</text><text class="t" transform="translate(1685.2 902) scale(0.95 1)" xml:space="preserve">15</text><text class="t" transform="translate(1685.2 921) scale(0.95 1)" xml:space="preserve">0</text>
<text class="t" transform="translate(-1 590.8) scale(0.95 1)" xml:space="preserve">MACD(12,26,9) 0.5352 0.7360</text><text class="t" transform="translate(-3.2 763.3) scale(0.95 1)" xml:space="preserve">RSI(14) 56.4708</text>
<text class="t" transform="translate(9.2 35.2) scale(0.95 1)" xml:space="preserve">USDJPY-,Daily  109.324 109.952 109.208 109.648</text><polygon points="0,28.5 0,34 5,34" fill="#000"/>
<text class="t" transform="translate(-6.6 937) scale(0.935 1)" xml:space="preserve">11 Sep 2020</text><text class="t" transform="translate(57.4 937) scale(0.935 1)" xml:space="preserve">21 Sep 2020</text><text class="t" transform="translate(121.4 937) scale(0.935 1)" xml:space="preserve">30 Sep 2020</text><text class="t" transform="translate(185.4 937) scale(0.935 1)" xml:space="preserve">9 Oct 2020</text><text class="t" transform="translate(249.4 937) scale(0.935 1)" xml:space="preserve">19 Oct 2020</text><text class="t" transform="translate(313.4 937) scale(0.935 1)" xml:space="preserve">28 Oct 2020</text><text class="t" transform="translate(377.4 937) scale(0.935 1)" xml:space="preserve">6 Nov 2020</text><text class="t" transform="translate(441.4 937) scale(0.935 1)" xml:space="preserve">16 Nov 2020</text><text class="t" transform="translate(505.4 937) scale(0.935 1)" xml:space="preserve">25 Nov 2020</text><text class="t" transform="translate(569.4 937) scale(0.935 1)" xml:space="preserve">4 Dec 2020</text><text class="t" transform="translate(633.4 937) scale(0.935 1)" xml:space="preserve">14 Dec 2020</text><text class="t" transform="translate(697.4 937) scale(0.935 1)" xml:space="preserve">23 Dec 2020</text><text class="t" transform="translate(761.4 937) scale(0.935 1)" xml:space="preserve">4 Jan 2021</text><text class="t" transform="translate(825.4 937) scale(0.935 1)" xml:space="preserve">13 Jan 2021</text><text class="t" transform="translate(889.4 937) scale(0.935 1)" xml:space="preserve">22 Jan 2021</text><text class="t" transform="translate(953.4 937) scale(0.935 1)" xml:space="preserve">1 Feb 2021</text><text class="t" transform="translate(1017.4 937) scale(0.935 1)" xml:space="preserve">10 Feb 2021</text><text class="t" transform="translate(1081.4 937) scale(0.935 1)" xml:space="preserve">19 Feb 2021</text><text class="t" transform="translate(1145.4 937) scale(0.935 1)" xml:space="preserve">1 Mar 2021</text><text class="t" transform="translate(1209.4 937) scale(0.935 1)" xml:space="preserve">10 Mar 2021</text><text class="t" transform="translate(1273.4 937) scale(0.935 1)" xml:space="preserve">19 Mar 2021</text><text class="t" transform="translate(1337.4 937) scale(0.935 1)" xml:space="preserve">29 Mar 2021</text><text class="t" transform="translate(1401.4 937) scale(0.935 1)" xml:space="preserve">8 Apr 2021</text>
<polygon points="1420.5,24 1430.5,24 1425.5,29" fill="#c0c0c0"/>
<rect x="1727" y="21" width="1" height="923" fill="#d8d8d8" shape-rendering="crispEdges"/>
<g id="toolbar">
<rect x="0" y="0" width="1728" height="19" fill="#f0f0f0"/><rect x="0" y="18.6" width="1728" height="1" fill="#c4c4c4"/><rect x="0" y="19.4" width="1728" height="1.4" fill="#707070"/><rect x="0" y="20.8" width="1728" height="2.2" fill="#fff"/>
<path d="M-2 -2h6.2v15h-6.2z" fill="#fff" stroke="#2a78c8" stroke-width="1.3"/><rect x="0" y="4" width="3" height="1" fill="#a8c8f0"/><rect x="0" y="7" width="3" height="1" fill="#a8c8f0"/><rect x="0" y="10" width="3" height="1" fill="#a8c8f0"/><rect x="17.8" y="-1" width="11" height="13" fill="#f4efe4" stroke="#b0a898" stroke-width="0.8"/><path d="M20 3.5l2 -2.5l2 3l2 -3l1.5 2" stroke="#707890" stroke-width="0.9" fill="none"/><line x1="29.5" y1="11.5" x2="33.5" y2="15.5" stroke="#c89a10" stroke-width="3"/><circle cx="25.6" cy="7.8" r="5.3" fill="#cfe4f6" fill-opacity="0.9" stroke="#7aa8e0" stroke-width="1.1"/><rect x="23.5" y="5" width="3.4" height="5" fill="#a8b8c8"/><rect x="41.699999999999996" y="0" width="1.2" height="16.5" fill="#a0a0a0"/><path d="M52.5 -2h7.5l4 4v10.5h-11.5z" fill="#fff" stroke="#909090" stroke-width="1"/><path d="M60.0 -2v4h4" fill="none" stroke="#909090" stroke-width="0.8"/><rect x="54.5" y="1.5" width="2.5" height="1.3" fill="#909090"/><rect x="54.5" y="4.5" width="7" height="1" fill="#a0a0a0"/><rect x="54.5" y="7" width="5" height="1" fill="#a0a0a0"/><rect x="54.5" y="9.5" width="3" height="1" fill="#a0a0a0"/><path d="M60 5.3h4v3.7h3.7v4h-3.7v3.7h-4v-3.7h-3.7v-4h3.7z" fill="#22d322" stroke="#0a8a0a" stroke-width="0.9" stroke-linejoin="round"/><text class="cn" x="70.6" y="10.4">新订单</text>
<path d="M124.5 -1L134.5 6.5L127 15L119.3 9.5Z" fill="#e8b820" stroke="#a86c08" stroke-width="1" stroke-linejoin="round"/><path d="M125 1L132 6.5L126.5 12.5" fill="none" stroke="#f8e070" stroke-width="1.5"/><path d="M127 15L134.5 6.5l0.8 1.6L128 16z" fill="#b08038"/><rect x="149.5" y="-1" width="10.5" height="8.5" fill="#2a90f0" stroke="#1468c8" stroke-width="0.8"/><rect x="152" y="0.5" width="1.6" height="6" fill="#bfe0ff"/><rect x="154.8" y="2.8" width="4" height="1.5" fill="#d8ecff"/><path d="M150 14.3a3 3 0 0 1 0.3 -5.8a3.6 3.6 0 0 1 6.4 -1.2a3 3 0 0 1 4.3 2.2a2.5 2.5 0 0 1 -0.5 4.8z" fill="#e4ecf8" stroke="#5878b8" stroke-width="0.9"/><g fill="none" stroke-width="1.1"><path d="M183 -1.5a8 8 0 0 0 -3 14.5" stroke="#4878d8"/><path d="M183 1.5a5 5 0 0 0 -2 9" stroke="#4878d8"/><path d="M183 -1.5a8 8 0 0 1 3 14.8" stroke="#78b878"/><path d="M183 1.5a5 5 0 0 1 2.2 9.2" stroke="#78b878"/></g><circle cx="183" cy="6.3" r="1.6" fill="#2858c8"/><rect x="182.6" y="7" width="1.6" height="8" fill="#28a428"/><path d="M184.2 15a9 9 0 0 0 5 -4" stroke="#28a428" stroke-width="1.4" fill="none"/><path d="M202.3 6L216.5 6L214 12L209 15.2L205 12Z" fill="#f8d848" stroke="#d8a820" stroke-width="0.8"/><path d="M202.2 3.8c0 -2.2 4 -1.6 5.2 -2.2c1 -0.6 1.2 -2.6 3 -2.6c1.8 0 2 2 3 2.6c1.2 0.6 4.6 0 4.6 2.2c0 2 -3.6 3.2 -7.9 3.2c-4.3 0 -7.9 -1.2 -7.9 -3.2z" fill="#58b0e8" stroke="#2880c0" stroke-width="0.7"/><circle cx="214.4" cy="10.6" r="4.1" fill="#e02810" stroke="#b01808" stroke-width="0.6"/><rect x="212.6" y="8.8" width="3.6" height="3.6" fill="#fff"/><text class="cn" x="223.3" y="10.4">自动交易</text>
<rect x="277.8" y="0" width="1.2" height="19" fill="#a0a0a0"/><rect x="279.0" y="0" width="1" height="19" fill="#fff"/><rect x="282" y="1" width="3" height="1" fill="#a8a8a8"/><rect x="282" y="3" width="3" height="1" fill="#a8a8a8"/><rect x="282" y="5" width="3" height="1" fill="#a8a8a8"/><rect x="282" y="7" width="3" height="1" fill="#a8a8a8"/><rect x="282" y="9" width="3" height="1" fill="#a8a8a8"/><rect x="282" y="11" width="3" height="1" fill="#a8a8a8"/><rect x="282" y="13" width="3" height="1" fill="#a8a8a8"/><rect x="282" y="15" width="3" height="1" fill="#a8a8a8"/><g stroke="#505050" stroke-width="1.2" fill="none"><line x1="296.4" y1="2" x2="296.4" y2="14.8"/><line x1="293.79999999999995" y1="12.5" x2="306.9" y2="12.5"/></g><polygon points="296.4,0.8 294.4,3.6 298.4,3.6" fill="#505050"/><polygon points="308.0,12.5 305.2,10.5 305.2,14.5" fill="#505050"/><path d="M302.5 2.5v7.5M302.5 3h2.6M300 9.5h2.5" stroke="#109010" stroke-width="1.3" fill="none"/><rect x="315.7" y="0" width="1.2" height="16.5" fill="#a0a0a0"/><rect x="317" y="0" width="24" height="17" fill="#f8f8f8"/><g stroke="#505050" stroke-width="1.2" fill="none"><line x1="324.4" y1="2" x2="324.4" y2="14.8"/><line x1="321.79999999999995" y1="12.5" x2="334.9" y2="12.5"/></g><polygon points="324.4,0.8 322.4,3.6 326.4,3.6" fill="#505050"/><polygon points="336.0,12.5 333.2,10.5 333.2,14.5" fill="#505050"/><line x1="330.5" y1="0" x2="330.5" y2="10.6" stroke="#0a8a0a" stroke-width="1.2"/><rect x="328.3" y="2" width="4.4" height="6.4" fill="#38e038" stroke="#0a8a0a" stroke-width="0.9"/><g stroke="#505050" stroke-width="1.2" fill="none"><line x1="352.3" y1="2" x2="352.3" y2="14.8"/><line x1="349.7" y1="12.5" x2="362.8" y2="12.5"/></g><polygon points="352.3,0.8 350.3,3.6 354.3,3.6" fill="#505050"/><polygon points="363.90000000000003,12.5 361.1,10.5 361.1,14.5" fill="#505050"/><path d="M351 9.7C354 8 355.5 4 357.2 4.2C359 4.5 361 7.5 363 8" stroke="#2a9a2a" stroke-width="1.2" fill="none"/><rect x="372.79999999999995" y="0" width="1.2" height="16.5" fill="#a0a0a0"/><line x1="392" y1="9" x2="397" y2="14" stroke="#c89a10" stroke-width="3" stroke-linecap="square"/><line x1="392.6" y1="8.6" x2="397.4" y2="13.4" stroke="#f0d860" stroke-width="1"/><circle cx="388" cy="5" r="5.4" fill="#d4eefa" stroke="#2c7fc8" stroke-width="1.2"/><rect x="385" y="4.1" width="6" height="1.8" fill="#3d8fb8"/><rect x="387.1" y="2" width="1.8" height="6" fill="#3d8fb8"/><line x1="420" y1="9" x2="425" y2="14" stroke="#c89a10" stroke-width="3" stroke-linecap="square"/><line x1="420.6" y1="8.6" x2="425.4" y2="13.4" stroke="#f0d860" stroke-width="1"/><circle cx="416" cy="5" r="5.4" fill="#d4eefa" stroke="#2c7fc8" stroke-width="1.2"/><rect x="413" y="4.1" width="6" height="1.8" fill="#3d8fb8"/><rect x="438.3" y="-1" width="7.6" height="7.8" fill="#38a018"/><rect x="446.2" y="-1" width="7.6" height="7.8" fill="#2858d8"/><rect x="438.3" y="7.2" width="7.6" height="7.4" fill="#2858d8"/><rect x="446.2" y="7.2" width="7.6" height="7.4" fill="#38a018"/><path d="M439.5 2.2h5.2v4h-1v-1.6h-3.2v1.6h-1z" fill="#fff"/><rect x="440.5" y="3.2" width="3.2" height="0.8" fill="#d8f0c0"/><path d="M447.4 2.2h5.2v4h-1v-1.6h-3.2v1.6h-1z" fill="#fff"/><rect x="448.4" y="3.2" width="3.2" height="0.8" fill="#d0dcff"/><path d="M439.5 9.6h5.2v4h-1v-1.6h-3.2v1.6h-1z" fill="#fff"/><rect x="440.5" y="10.6" width="3.2" height="0.8" fill="#d0dcff"/><path d="M447.4 9.6h5.2v4h-1v-1.6h-3.2v1.6h-1z" fill="#fff"/><rect x="448.4" y="10.6" width="3.2" height="0.8" fill="#d8f0c0"/><rect x="462.9" y="0" width="1.2" height="16.5" fill="#a0a0a0"/><rect x="467.79999999999995" y="0" width="1.2" height="16.5" fill="#a0a0a0"/><rect x="469" y="0" width="24" height="17" fill="#f8f8f8"/><g stroke="#505050" stroke-width="1.2" fill="none"><line x1="476.4" y1="2" x2="476.4" y2="14.8"/><line x1="473.79999999999995" y1="12.5" x2="486.9" y2="12.5"/></g><polygon points="476.4,0.8 474.4,3.6 478.4,3.6" fill="#505050"/><polygon points="488.0,12.5 485.2,10.5 485.2,14.5" fill="#505050"/><path d="M481.3 3.2L485 6.5L481.3 9.8Z" fill="#48c848" stroke="#109010" stroke-width="0.9"/><rect x="495.7" y="0" width="1.2" height="16.5" fill="#a0a0a0"/><rect x="497" y="0" width="24" height="17" fill="#f8f8f8"/><g stroke="#505050" stroke-width="1.2" fill="none"><line x1="504.4" y1="2" x2="504.4" y2="14.8"/><line x1="501.79999999999995" y1="12.5" x2="514.9" y2="12.5"/></g><polygon points="504.4,0.8 502.4,3.6 506.4,3.6" fill="#505050"/><polygon points="516.0,12.5 513.1999999999999,10.5 513.1999999999999,14.5" fill="#505050"/><line x1="510.5" y1="1" x2="510.5" y2="11" stroke="#1868a8" stroke-width="1.2"/><path d="M511.3 6.5l2.6 -2.2v1.5h2.2v1.4h-2.2v1.5z" fill="#e05010"/><rect x="524.8" y="0" width="1.2" height="16.5" fill="#a0a0a0"/><path d="M535.3 -2h7.199999999999999l4 4v10.5h-11.2z" fill="#fff" stroke="#909090" stroke-width="1"/><path d="M542.5 -2v4h4" fill="none" stroke="#909090" stroke-width="0.8"/><path d="M539 3.5c-1.6 0 -1.6 2 -0.4 2.6c-1.4 0.6 -1 3 0.4 3" stroke="#605840" stroke-width="0.9" fill="none"/><path d="M543.3 5.3h4v3.7h3.7v4h-3.7v3.7h-4v-3.7h-3.7v-4h3.7z" fill="#22d322" stroke="#0a8a0a" stroke-width="0.9" stroke-linejoin="round"/><polygon points="557,6 562.4,6 559.7,9.2" fill="#000"/><circle cx="581" cy="6.6" r="6.3" fill="#fff" stroke="#1068d4" stroke-width="2.8"/><circle cx="581" cy="6.6" r="7.6" fill="none" stroke="#0a50a8" stroke-width="0.5"/><path d="M580.4 3v4.2h3.2" stroke="#202020" stroke-width="1.1" fill="none"/><rect x="579" y="-1.5" width="4" height="2" fill="#1470d8"/><polygon points="596,6 601.4,6 598.7,9.2" fill="#000"/><rect x="612.6" y="-1" width="15" height="14.2" fill="#fff" stroke="#2868c0" stroke-width="1.1"/><rect x="612.6" y="-1" width="15" height="3" fill="#3880d0"/><rect x="613.2" y="7" width="13.8" height="1.2" fill="#2868c0"/><path d="M614.5 6h2l2 -1.6h1.4l1.2 1h1.6l1.6 -1.4h1.2" stroke="#981808" stroke-width="1.1" fill="none"/><path d="M615 11.4h1.6l1.4 -1h1.4l1.4 1l2 -2.2h1l1.6 2" stroke="#108a10" stroke-width="1.1" fill="none"/><polygon points="634.8,6 640.1999999999999,6 637.5,9.2" fill="#000"/><rect x="645.6999999999999" y="0" width="1.2" height="19" fill="#a0a0a0"/><rect x="646.9" y="0" width="1" height="19" fill="#fff"/><rect x="650" y="1" width="3" height="1" fill="#a8a8a8"/><rect x="650" y="3" width="3" height="1" fill="#a8a8a8"/><rect x="650" y="5" width="3" height="1" fill="#a8a8a8"/><rect x="650" y="7" width="3" height="1" fill="#a8a8a8"/><rect x="650" y="9" width="3" height="1" fill="#a8a8a8"/><rect x="650" y="11" width="3" height="1" fill="#a8a8a8"/><rect x="650" y="13" width="3" height="1" fill="#a8a8a8"/><rect x="650" y="15" width="3" height="1" fill="#a8a8a8"/><rect x="655.8" y="0" width="1.2" height="16.5" fill="#a0a0a0"/><rect x="657.2" y="0" width="24" height="17" fill="#f8f8f8"/><path d="M664.4 -0.5v11.2l2.5 -2.2l2.5 5.2l1.9 -0.9l-2.5 -5.2l3.4 -0.2z" fill="#505050"/><g stroke="#505050" stroke-width="1.2"><line x1="689" y1="7.5" x2="695" y2="7.5"/><line x1="698.2" y1="7.5" x2="704.2" y2="7.5"/><line x1="696.6" y1="0" x2="696.6" y2="6"/><line x1="696.6" y1="9" x2="696.6" y2="15"/></g><rect x="712.8" y="0" width="1.2" height="16.5" fill="#a0a0a0"/><line x1="730.5" y1="1" x2="730.5" y2="14" stroke="#505050" stroke-width="1.2"/><line x1="753" y1="7.5" x2="765" y2="7.5" stroke="#505050" stroke-width="1.2"/><line x1="781" y1="13.7" x2="793" y2="2" stroke="#505050" stroke-width="1.2"/><g stroke="#505050" stroke-width="1" fill="none"><line x1="807" y1="8.6" x2="815.2" y2="1.4"/><line x1="811.5" y1="13.6" x2="820.6" y2="5.6"/><path d="M809 13l1 -6l2 4l1 -6l2 4l1 -6l2 4l0.6 -6"/></g><text x="817.6" y="15.7" style="font-family:'Liberation Sans',sans-serif;font-size:6.4px;font-weight:bold;fill:#404040">E</text><line x1="836" y1="0.5" x2="849" y2="0.5" stroke="#505050" stroke-width="1" stroke-dasharray="1 1"/><line x1="836" y1="3.5" x2="849" y2="3.5" stroke="#505050" stroke-width="1" stroke-dasharray="1 1"/><line x1="836" y1="7.5" x2="849" y2="7.5" stroke="#505050" stroke-width="1" stroke-dasharray="1 1"/><line x1="836" y1="11.5" x2="845" y2="11.5" stroke="#505050" stroke-width="1" stroke-dasharray="1 1"/><text x="845.8" y="15.7" style="font-family:'Liberation Sans',sans-serif;font-size:6.4px;font-weight:bold;fill:#404040">F</text><text x="866.4" y="12" style="font-family:'Liberation Sans',sans-serif;font-size:12.6px;fill:#505050">A</text><rect x="893.4" y="1.2" width="11.4" height="12.2" fill="none" stroke="#505050" stroke-width="1" stroke-dasharray="1 1"/><rect x="892.3" y="0" width="2.2" height="1.4" fill="#505050"/><text x="895.3" y="12" style="font-family:'Liberation Sans',sans-serif;font-size:11.4px;fill:#505050">T</text><path d="M923.4 0.8l3.4 3l-3.4 2l-3.4 -2z" fill="#505050"/><path d="M930.6 8.6l3.4 2l-3.4 3.2l-3.4 -3.2z" fill="#505050"/><path d="M922.6 8.6l2.2 1.8l4 -5" stroke="#505050" stroke-width="1.1" fill="none"/><polygon points="940.7,6 946.1,6 943.4000000000001,9.2" fill="#000"/><rect x="951.5999999999999" y="0" width="1.2" height="19" fill="#a0a0a0"/><rect x="952.8" y="0" width="1" height="19" fill="#fff"/><rect x="956" y="1" width="3" height="1" fill="#a8a8a8"/><rect x="956" y="3" width="3" height="1" fill="#a8a8a8"/><rect x="956" y="5" width="3" height="1" fill="#a8a8a8"/><rect x="956" y="7" width="3" height="1" fill="#a8a8a8"/><rect x="956" y="9" width="3" height="1" fill="#a8a8a8"/><rect x="956" y="11" width="3" height="1" fill="#a8a8a8"/><rect x="956" y="13" width="3" height="1" fill="#a8a8a8"/><rect x="956" y="15" width="3" height="1" fill="#a8a8a8"/><rect x="1131" y="0" width="24" height="17" fill="#f8f8f8"/><rect x="1129.8000000000002" y="0" width="1.2" height="16.5" fill="#a0a0a0"/><text class="tf" transform="translate(967.4 11) scale(0.92 1)">M1</text><text class="tf" transform="translate(995.4 11) scale(0.92 1)">M5</text><text class="tf" transform="translate(1021.4 11) scale(0.92 1)">M15</text><text class="tf" transform="translate(1049.4 11) scale(0.92 1)">M30</text><text class="tf" transform="translate(1080.2 11) scale(0.92 1)">H1</text><text class="tf" transform="translate(1107.2 11) scale(0.92 1)">H4</text><text class="tf" transform="translate(1136.2 11) scale(0.92 1)">D1</text><text class="tf" transform="translate(1163.6 11) scale(0.92 1)">W1</text><text class="tf" transform="translate(1190.2 11) scale(0.92 1)">MN</text><rect x="1212.7" y="0" width="1.2" height="19" fill="#a0a0a0"/><rect x="1213.9" y="0" width="1" height="19" fill="#fff"/>
<line x1="1680.6" y1="7.4" x2="1675.8" y2="12.2" stroke="#2a62d0" stroke-width="2.2" stroke-linecap="round"/><circle cx="1683.6" cy="4.3" r="3.9" fill="#fdfdff" stroke="#2a62d0" stroke-width="1.3"/><path d="M1703.6 15.6l0.8 -2.6a5.6 4.6 0 1 1 2.6 0.4z" fill="#e2e2ea" stroke="#a8a8a8" stroke-width="0.8"/><circle cx="1714.5" cy="4.4" r="8.2" fill="#e03a22"/><circle cx="1714.5" cy="2" r="6" fill="#e44a30" fill-opacity="0.6"/><text x="1709.9" y="8.9" style="font-family:'Liberation Serif',serif;font-size:14.6px;fill:#fff;stroke:#fff;stroke-width:0.35px">1</text></g>
<g id="panel">
<defs>
<linearGradient id="g1" x1="0" y1="0" x2="0" y2="1"><stop offset="0" stop-color="#fa5454"/><stop offset="1" stop-color="#dc3030"/></linearGradient>
<linearGradient id="g2" x1="0" y1="0" x2="0" y2="1"><stop offset="0" stop-color="#d82c2c"/><stop offset="1" stop-color="#a60000"/></linearGradient>
<linearGradient id="g3" x1="0" y1="0" x2="0" y2="1"><stop offset="0" stop-color="#f6f6f6"/><stop offset="1" stop-color="#cecece"/></linearGradient>
</defs>
<rect x="0" y="43" width="218" height="64" fill="#fff"/>
<rect x="0" y="43" width="49" height="25" fill="url(#g1)"/>
<rect x="164" y="43" width="52" height="25" fill="url(#g1)"/>
<rect x="0" y="67" width="106" height="40" fill="url(#g2)"/>
<rect x="108" y="67" width="108" height="40" fill="url(#g2)"/>
<path d="M-1 43.5H48.5V67.5H105.5V106.5H-1" fill="none" stroke="#b00808" stroke-opacity="0.75" stroke-width="1"/>
<path d="M164.5 67V43.5H215.5V106.5H108.5V67.5H164.5" fill="none" stroke="#b00808" stroke-opacity="0.75" stroke-width="1"/>
<rect x="1" y="66" width="44" height="1" fill="#a80c0c"/><rect x="1" y="67" width="44" height="1" fill="#ee7070"/>
<rect x="168" y="66" width="44" height="1" fill="#a80c0c"/><rect x="168" y="67" width="44" height="1" fill="#ee7070"/>
<rect x="51.5" y="44.5" width="110" height="19.5" fill="#fff" stroke="#a8b0c0" stroke-width="1"/>
<rect x="52.5" y="45.5" width="19.5" height="17.5" fill="url(#g3)"/><rect x="72" y="45" width="1" height="18.5" fill="#a8b0c0"/>
<rect x="141" y="45.5" width="19.5" height="17.5" fill="url(#g3)"/><rect x="140" y="45" width="1" height="18.5" fill="#a8b0c0"/>
<polygon points="59,52 64,52 61.5,55" fill="#5060b8"/><polygon points="148,55 153,55 150.5,52" fill="#5060b8"/>
<text transform="translate(137.2 58.4) scale(0.95 1)" text-anchor="end" style="font-family:'Liberation Sans',sans-serif;font-size:12.7px;fill:#000">1.00</text>
<text transform="translate(8.6 58.9) scale(0.97 1)" style="font-family:'Liberation Sans',sans-serif;fill:#fff;font-size:11.6px">SELL</text>
<text transform="translate(177 58.9) scale(0.97 1)" style="font-family:'Liberation Sans',sans-serif;fill:#fff;font-size:11.6px">BUY</text>
<text transform="translate(19.8 97.9) scale(1.12 1)" style="font-family:'Liberation Sans',sans-serif;fill:#fff;font-size:11.8px;font-weight:bold">109</text><text transform="translate(44 97.9) scale(0.985 1)" style="font-family:'Liberation Sans',sans-serif;fill:#fff;font-size:32.6px">64</text><text transform="translate(83.9 81) scale(1.2 1)" style="font-family:'Liberation Sans',sans-serif;fill:#fff;font-size:10px;font-weight:bold">8</text>
<text transform="translate(130.4 97.9) scale(1.12 1)" style="font-family:'Liberation Sans',sans-serif;fill:#fff;font-size:11.8px;font-weight:bold">109</text><text transform="translate(154.6 97.9) scale(0.985 1)" style="font-family:'Liberation Sans',sans-serif;fill:#fff;font-size:32.6px">66</text><text transform="translate(194.5 81) scale(1.2 1)" style="font-family:'Liberation Sans',sans-serif;fill:#fff;font-size:10px;font-weight:bold">3</text>
</g>
</svg>
</body></html>
